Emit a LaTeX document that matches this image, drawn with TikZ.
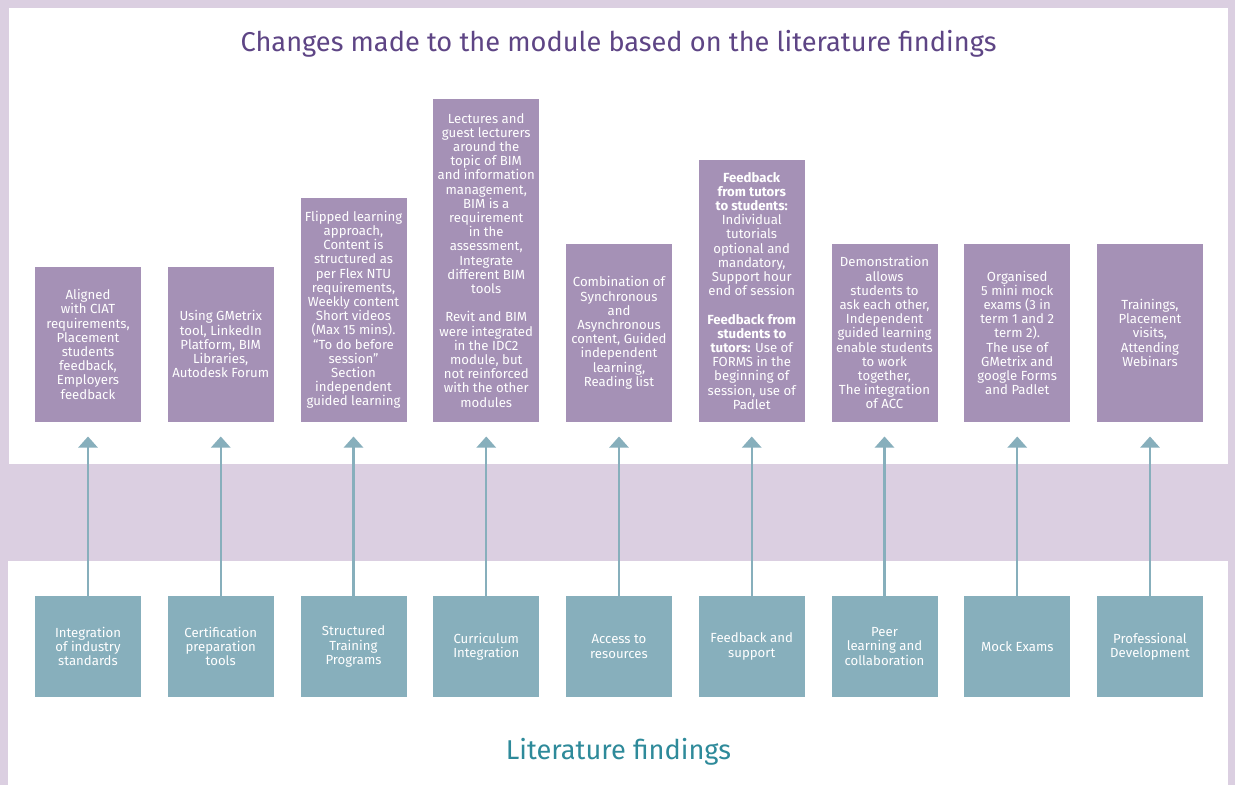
\documentclass[tikz,border=0pt]{standalone}
\usepackage{fontspec}
\setmainfont{Fira Sans}
\usetikzlibrary{arrows.meta}

\definecolor{frame}{HTML}{DBCFE1}
\definecolor{changefill}{HTML}{A591B6}
\definecolor{findfill}{HTML}{87AFBC}
\definecolor{headpurple}{HTML}{5E4585}
\definecolor{headteal}{HTML}{2E8A9A}

\newcommand\boxfont{\fontsize{13.2}{14.2}\selectfont}
\newcommand\headfont{\fontsize{27.2}{31}\selectfont}

\tikzset{
    change/.style={fill=changefill, text=white, align=center, inner sep=0pt,
        minimum width=106pt, anchor=south, font=\boxfont},
    finding/.style={fill=findfill, text=white, align=center, inner sep=0pt,
        minimum width=106pt, minimum height=101pt, font=\boxfont},
    lift/.style={draw=findfill, line width=2.2pt, shorten >=14.5pt,
        -{Triangle[width=19pt,length=11pt]}},
}

\begin{document}
\begin{tikzpicture}[x=1pt,y=-1pt]

    % frame and the two white panels
    \fill[frame] (0,0) rectangle (1235,785);
    \fill[white] (9,8) rectangle (1228,464);
    \fill[white] (8,561) rectangle (1228,785);
    \useasboundingbox (0,0) rectangle (1235,785);

    \foreach \i in {1,...,9}{
        \pgfmathsetmacro\colx{88+132.75*(\i-1)}
        \coordinate (top\i) at (\colx,422);
        \coordinate (bot\i) at (\colx,646.5);
    }

    \node (title) at (618.5,44) [text=headpurple, font=\headfont]
        {Changes made to the module based on the literature findings};
    \node (subtitle) at (618.5,752) [text=headteal, font=\headfont]
        {Literature findings};

    % changes made
    \node[change, minimum height=155pt] (c1) at (top1)
        {Aligned\\with CIAT\\requirements,\\Placement\\students\\feedback,\\Employers\\feedback};
    \node[change, minimum height=155pt] (c2) at (top2)
        {Using GMetrix\\tool, LinkedIn\\Platform, BIM\\Libraries,\\Autodesk Forum};
    \node[change, minimum height=224pt] (c3) at (top3)
        {Flipped learning\\approach,\\Content is\\structured as\\per Flex NTU\\requirements,\\Weekly content\\Short videos\\(Max 15 mins).\\“To do before\\session”\\Section\\independent\\guided learning};
    \node[change, minimum height=323pt] (c4) at (top4)
        {Lectures and\\guest lecturers\\around the\\topic of BIM\\and information\\management,\\BIM is a\\requirement\\in the\\assessment,\\Integrate\\different BIM\\tools\\[14.2pt]Revit and BIM\\were integrated\\in the IDC2\\module, but\\not reinforced\\with the other\\modules};
    \node[change, minimum height=178pt] (c5) at (top5)
        {Combination of\\Synchronous\\and\\Asynchronous\\content, Guided\\independent\\learning,\\Reading list};
    \node[change, minimum height=262pt] (c6) at (top6)
        {\textbf{Feedback}\\\textbf{from tutors}\\\textbf{to students:}\\Individual\\tutorials\\optional and\\mandatory,\\Support hour\\end of session\\[14.2pt]\textbf{Feedback from}\\\textbf{students to}\\\textbf{tutors:} Use of\\FORMS in the\\beginning of\\session, use of\\Padlet};
    \node[change, minimum height=178pt] (c7) at (top7)
        {Demonstration\\allows\\students to\\ask each other,\\Independent\\guided learning\\enable students\\to work\\together,\\The integration\\of ACC};
    \node[change, minimum height=178pt] (c8) at (top8)
        {Organised\\5 mini mock\\exams (3 in\\term 1 and 2\\term 2).\\The use of\\GMetrix and\\google Forms\\and Padlet};
    \node[change, minimum height=178pt] (c9) at (top9)
        {Trainings,\\Placement\\visits,\\Attending\\Webinars};

    % literature findings
    \node[finding] (f1) at (bot1) {Integration\\of industry\\standards};
    \node[finding] (f2) at (bot2) {Certification\\preparation\\tools};
    \node[finding] (f3) at (bot3) {Structured\\Training\\Programs};
    \node[finding] (f4) at (bot4) {Curriculum\\Integration};
    \node[finding] (f5) at (bot5) {Access to\\resources};
    \node[finding] (f6) at (bot6) {Feedback and\\support};
    \node[finding] (f7) at (bot7) {Peer\\learning and\\collaboration};
    \node[finding] (f8) at (bot8) {Mock Exams};
    \node[finding] (f9) at (bot9) {Professional\\Development};

    \foreach \i in {1,...,9} \draw[lift] (f\i) -- (c\i);

\end{tikzpicture}
\end{document}
